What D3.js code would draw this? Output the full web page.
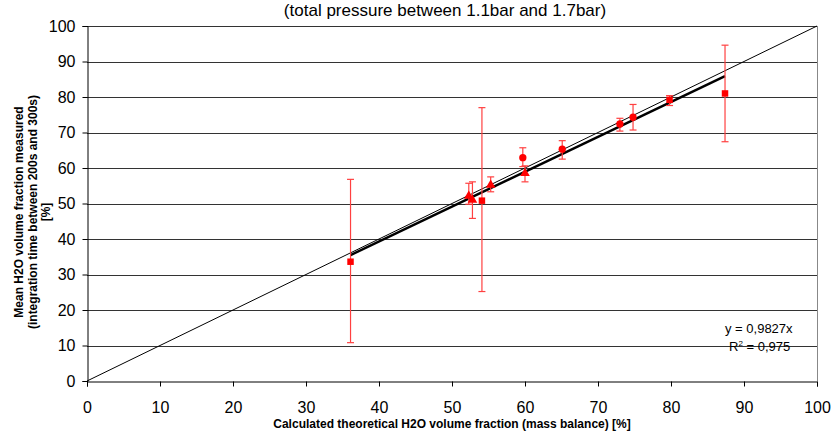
<!DOCTYPE html>
<html>
<head>
<meta charset="utf-8" />
<script src="https://d3js.org/d3.v7.min.js"></script>
<style>
  body { margin: 0; background: #fff; }
  svg { font-family: "Liberation Sans", Arial, sans-serif; }
</style>
</head>
<body>
<div id="chart"></div>
<script>
// measured points (theoretical vs measured, %)
var xVals   = [36.1, 52.3, 52.8, 54.1, 55.3, 59.7, 60.0, 65.1, 73.0, 74.8, 79.8, 87.4];
var yVals   = [33.6, 52.1, 51.0, 50.8, 55.2, 62.9, 58.5, 65.3, 72.4, 74.3, 79.2, 81.0];
var errLow  = [10.8, 49.8, 45.8, 25.2, 53.3, 60.4, 56.1, 62.5, 70.4, 70.7, 77.6, 67.4];
var errHigh = [56.8, 55.7, 56.1, 77.0, 57.5, 65.7, 60.6, 67.7, 74.0, 77.9, 80.4, 94.6];
var shapes  = ["square", "triangle", "triangle", "square", "triangle", "circle",
               "triangle", "circle", "circle", "circle", "square", "square"];
var ticks = [0, 10, 20, 30, 40, 50, 60, 70, 80, 90, 100];
var slope = 0.9827;
var r2 = "0,975";

var W = 833, H = 437;
var margin = {top: 26, right: 16, bottom: 56, left: 87};

var svg = d3.select("#chart").append("svg")
  .attr("width", W).attr("height", H);

var x = d3.scaleLinear().domain([0, 100]).range([margin.left, W - margin.right]);
var y = d3.scaleLinear().domain([0, 100]).range([H - margin.bottom, margin.top]);

// grid lines
svg.append("g")
  .selectAll("line")
  .data(ticks.slice(1))
  .enter().append("line")
  .attr("x1", x(0)).attr("x2", x(100))
  .attr("y1", function(d) { return Math.round(y(d)) + 0.5; })
  .attr("y2", function(d) { return Math.round(y(d)) + 0.5; })
  .attr("stroke", "#333")
  .attr("stroke-width", 1);

// right border
svg.append("line")
  .attr("x1", Math.round(x(100)) + 0.5).attr("x2", Math.round(x(100)) + 0.5)
  .attr("y1", y(100)).attr("y2", y(0))
  .attr("stroke", "#888");

// axes
var xAxis = svg.append("g")
  .attr("transform", "translate(0," + (Math.round(y(0)) + 0.5) + ")")
  .call(d3.axisBottom(x).tickValues(ticks).tickSize(5).tickPadding(15));
var yAxis = svg.append("g")
  .attr("transform", "translate(" + (Math.round(x(0)) + 0.5) + ",0)")
  .call(d3.axisLeft(y).tickValues(ticks).tickSize(5).tickPadding(7));

[xAxis, yAxis].forEach(function(a) {
  a.select(".domain").attr("stroke", "#000");
  a.selectAll(".tick line").attr("stroke", "#000");
  a.selectAll("text")
    .style("font-family", "Liberation Sans, Arial, sans-serif")
    .style("font-size", "16px")
    .attr("fill", "#000");
});

// y = x reference line
svg.append("line")
  .attr("x1", x(0)).attr("y1", y(0))
  .attr("x2", x(100)).attr("y2", y(100))
  .attr("stroke", "#000").attr("stroke-width", 1);

// trend line
var xMin = d3.min(xVals), xMax = d3.max(xVals);
svg.append("line")
  .attr("x1", x(xMin)).attr("y1", y(slope * xMin))
  .attr("x2", x(xMax)).attr("y2", y(slope * xMax))
  .attr("stroke", "#000").attr("stroke-width", 2.5);

// error bars
var pts = xVals.map(function(d, i) {
  return {x: d, y: yVals[i], lo: errLow[i], hi: errHigh[i], shape: shapes[i]};
});

var eb = svg.append("g")
  .attr("stroke", "#ff4040")
  .attr("stroke-width", 1.2);

eb.selectAll(".vbar").data(pts).enter().append("line")
  .attr("x1", function(d) { return x(d.x); })
  .attr("x2", function(d) { return x(d.x); })
  .attr("y1", function(d) { return y(d.lo); })
  .attr("y2", function(d) { return y(d.hi); });

["lo", "hi"].forEach(function(k) {
  eb.selectAll(".cap" + k).data(pts).enter().append("line")
    .attr("x1", function(d) { return x(d.x) - 3.5; })
    .attr("x2", function(d) { return x(d.x) + 3.5; })
    .attr("y1", function(d) { return y(d[k]); })
    .attr("y2", function(d) { return y(d[k]); });
});

// markers
var symbolType = {square: d3.symbolSquare, triangle: d3.symbolTriangle, circle: d3.symbolCircle};
svg.append("g")
  .selectAll("path")
  .data(pts)
  .enter().append("path")
  .attr("transform", function(d) { return "translate(" + x(d.x) + "," + y(d.y) + ")"; })
  .attr("d", function(d) {
    return d3.symbol().type(symbolType[d.shape]).size(d.shape === "triangle" ? 40 : 42)();
  })
  .attr("fill", "#ff0000");

// title
svg.append("text")
  .attr("x", 445).attr("y", 16)
  .attr("text-anchor", "middle")
  .style("font-size", "17px")
  .text("(total pressure between 1.1bar and 1.7bar)");

// axis titles
svg.append("text")
  .attr("x", 452).attr("y", 428)
  .attr("text-anchor", "middle")
  .style("font-size", "12px")
  .style("font-weight", "bold")
  .text("Calculated theoretical H2O volume fraction (mass balance) [%]");

var yTitle = ["Mean H2O volume fraction measured", "(integration time between 200s and 300s)", "[%]"];
var yTitleX = [23, 37, 50];
svg.append("g")
  .selectAll("text")
  .data(yTitle)
  .enter().append("text")
  .attr("transform", function(d, i) { return "translate(" + yTitleX[i] + ",212) rotate(-90)"; })
  .attr("text-anchor", "middle")
  .style("font-size", "12px")
  .style("font-weight", "bold")
  .text(function(d) { return d; });

// regression label
svg.append("text")
  .attr("x", 725).attr("y", 333)
  .style("font-size", "13px")
  .text("y = " + String(slope).replace(".", ",") + "x");

var r2Text = svg.append("text")
  .attr("x", 729).attr("y", 351)
  .style("font-size", "13px");
r2Text.append("tspan").text("R");
r2Text.append("tspan").attr("dy", -5).style("font-size", "8px").text("2");
r2Text.append("tspan").attr("dy", 5).text(" = " + r2);
</script>
</body>
</html>
